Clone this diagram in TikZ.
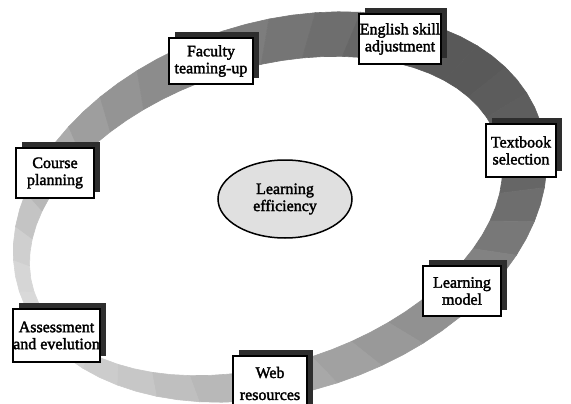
\documentclass[tikz,border=0pt]{standalone}
\usepackage{fontspec}
\setmainfont{Liberation Serif}
\newfontfamily\boxfont{Liberation Serif}[FakeBold=2]
\usetikzlibrary{shadows,shapes.geometric}
\begin{document}
\begin{tikzpicture}[x=1pt,y=-1pt,
  box/.style={draw=black, line width=2pt, fill=white, align=center, inner sep=0pt,
     font=\boxfont\fontsize{16}{17}\selectfont,
     drop shadow={shadow xshift=6pt, shadow yshift=6pt, fill=black!82, opacity=1}},
  hub/.style={ellipse, draw=black, line width=1.5pt, fill=black!12, align=center,
     inner sep=0pt, minimum width=134pt, minimum height=78pt,
     font=\boxfont\fontsize{16}{17}\selectfont}
]
\useasboundingbox (0,0) rectangle (571,404);
\clip (0,0) rectangle (571,404);
% ring
\foreach \ang/\gr in {0/38,10/40,20/43,30/47,40/51,50/54,60/57,70/60,80/63,90/66,
  100/69,110/72,120/75,130/78,140/80,150/82,160/84,170/85,180/84,190/81,200/77,
  210/72,220/67,230/62,240/58,250/55,260/52,270/49,280/46,290/43,300/40,310/37,
  320/35,330/35,340/36,350/37} {
  \pgfmathsetmacro{\md}{\ang+5}
  \pgfmathsetmacro{\nx}{\ang+10}
  \pgfmathsetmacro{\oax}{274*cos(\ang)}\pgfmathsetmacro{\oay}{185*sin(\ang)}
  \pgfmathsetmacro{\obx}{274*cos(\md)}\pgfmathsetmacro{\oby}{185*sin(\md)}
  \pgfmathsetmacro{\ocx}{274*cos(\nx)}\pgfmathsetmacro{\ocy}{185*sin(\nx)}
  \pgfmathsetmacro{\iax}{244*cos(\ang)}\pgfmathsetmacro{\iay}{148*sin(\ang)}
  \pgfmathsetmacro{\ibx}{244*cos(\md)}\pgfmathsetmacro{\iby}{148*sin(\md)}
  \pgfmathsetmacro{\icx}{244*cos(\nx)}\pgfmathsetmacro{\icy}{148*sin(\nx)}
  \fill[white!\gr!black, draw=white!\gr!black, line width=0.6pt]
    ([shift={(280,207)},rotate=18]\oax,\oay)
    -- ([shift={(280,207)},rotate=18]\obx,\oby)
    -- ([shift={(280,207)},rotate=18]\ocx,\ocy)
    -- ([shift={(266,216)},rotate=18]\icx,\icy)
    -- ([shift={(266,216)},rotate=18]\ibx,\iby)
    -- ([shift={(266,216)},rotate=18]\iax,\iay) -- cycle;
}
% hub
\node[hub] (hub) at (285,199) {Learning\\efficiency};
% boxes
\node[box, minimum width=84pt, minimum height=46pt] (fac) at (211,61) {Faculty\\teaming-up};
\node[box, minimum width=82pt, minimum height=50pt] (eng) at (400,39) {English skill\\adjustment};
\node[box, minimum width=70pt, minimum height=53pt] (txt) at (521,150.5) {Textbook\\selection};
\node[box, minimum width=78pt, minimum height=50pt] (lm) at (462,291) {Learning\\model};
\node[box, minimum width=85pt, minimum height=53pt] (ass) at (56.5,335.5) {Assessment\\and evelution};
\node[box, minimum width=74pt, minimum height=55pt] (web) at (270,383.5) {Web\\[5pt]resources};
\node[box, minimum width=78pt, minimum height=50pt] (crs) at (55,173) {Course\\planning};
\end{tikzpicture}
\end{document}
